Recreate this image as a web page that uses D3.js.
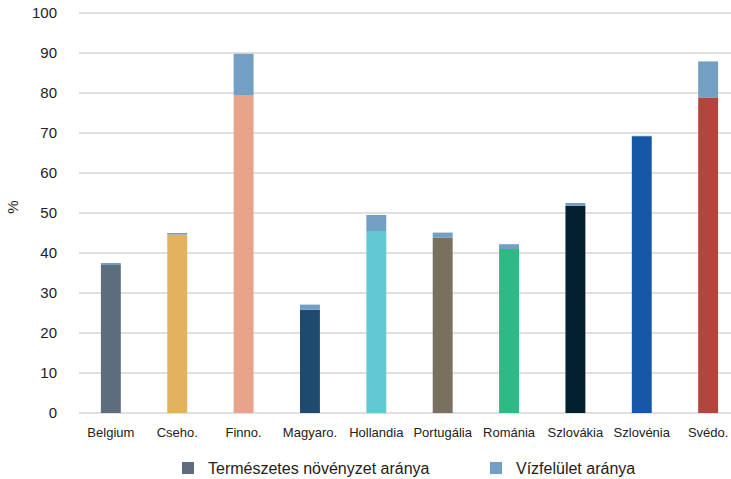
<!DOCTYPE html>
<html>
<head>
<meta charset="utf-8">
<script src="https://cdn.jsdelivr.net/npm/d3@7/dist/d3.min.js"></script>
<style>
  html, body { margin: 0; padding: 0; background: #fff; }
  svg { display: block; font-family: "Liberation Sans", Arial, sans-serif; }
</style>
</head>
<body>
<svg id="chart" width="731" height="479"></svg>
<script>
// Countries and their shares (%)
const countries = ["Belgium", "Cseho.", "Finno.", "Magyaro.", "Hollandia", "Portugália", "Románia", "Szlovákia", "Szlovénia", "Svédo."];
const natural = [37.0, 44.6, 79.5, 25.8, 45.5, 43.8, 41.0, 51.8, 69.2, 78.9];
const water = [0.5, 0.4, 10.3, 1.3, 4.0, 1.3, 1.2, 0.7, 0.1, 9.0];
const countryColors = ["#5d6d7e", "#e3b261", "#e8a48b", "#1f4a6f", "#62c9d3", "#7a7060", "#2eba84", "#03202f", "#1757a8", "#b2463d"];
const waterColor = "#729fc3";
const yTicks = [0, 10, 20, 30, 40, 50, 60, 70, 80, 90, 100];
const legendLabels = ["Természetes növényzet aránya", "Vízfelület aránya"];

const svg = d3.select("#chart");
const plot = { left: 79, right: 740, top: 13, bottom: 413 };

const x = d3.scaleBand()
  .domain(countries)
  .range([plot.left, plot.right])
  .paddingInner(0.7)
  .paddingOuter(0.33);

const y = d3.scaleLinear()
  .domain([0, 100])
  .range([plot.bottom, plot.top]);

// Horizontal gridlines
svg.append("g")
  .selectAll("line")
  .data(yTicks)
  .join("line")
  .attr("x1", plot.left)
  .attr("x2", 731)
  .attr("y1", d => y(d))
  .attr("y2", d => y(d))
  .attr("stroke", "#e0e0e0")
  .attr("stroke-width", 2);

// Y axis tick labels
const yAxis = d3.axisLeft(y).tickValues(yTicks).tickSize(0).tickPadding(0);
const gy = svg.append("g")
  .attr("transform", `translate(${plot.left - 22},0)`)
  .call(yAxis);
gy.select(".domain").remove();
gy.selectAll("text")
  .attr("font-size", 15)
  .attr("fill", "#222")
  .attr("font-family", "Liberation Sans, Arial, sans-serif");

// Y axis title
svg.append("text")
  .attr("transform", `translate(18,207) rotate(-90)`)
  .attr("text-anchor", "middle")
  .attr("font-size", 15)
  .attr("fill", "#222")
  .text("%");

// Stacked bars: natural vegetation, then water surface on top
const rows = countries.map((c, i) => ({ c, nat: natural[i], wat: water[i], color: countryColors[i] }));

svg.append("g")
  .selectAll("rect")
  .data(rows)
  .join("rect")
  .attr("x", d => x(d.c))
  .attr("width", x.bandwidth())
  .attr("y", d => y(d.nat))
  .attr("height", d => y(0) - y(d.nat))
  .attr("fill", d => d.color);

svg.append("g")
  .selectAll("rect")
  .data(rows)
  .join("rect")
  .attr("x", d => x(d.c))
  .attr("width", x.bandwidth())
  .attr("y", d => y(d.nat + d.wat))
  .attr("height", d => y(d.nat) - y(d.nat + d.wat))
  .attr("fill", waterColor);

// X axis category labels
const xAxis = d3.axisBottom(x).tickSize(0).tickPadding(0);
const gx = svg.append("g")
  .attr("transform", `translate(0,${plot.bottom + 15})`)
  .call(xAxis);
gx.select(".domain").remove();
gx.selectAll("text")
  .attr("font-size", 13)
  .attr("fill", "#222")
  .attr("font-family", "Liberation Sans, Arial, sans-serif");

// Legend
const legendItems = [
  { label: legendLabels[0], color: countryColors[0], x: 182 },
  { label: legendLabels[1], color: waterColor, x: 490 }
];
const lg = svg.append("g");
lg.selectAll("rect")
  .data(legendItems)
  .join("rect")
  .attr("x", d => d.x)
  .attr("y", 462)
  .attr("width", 12)
  .attr("height", 12)
  .attr("fill", d => d.color);
lg.selectAll("text")
  .data(legendItems)
  .join("text")
  .attr("x", d => d.x + 26)
  .attr("y", 474)
  .attr("font-size", 16)
  .attr("fill", "#222")
  .text(d => d.label);
</script>
</body>
</html>
